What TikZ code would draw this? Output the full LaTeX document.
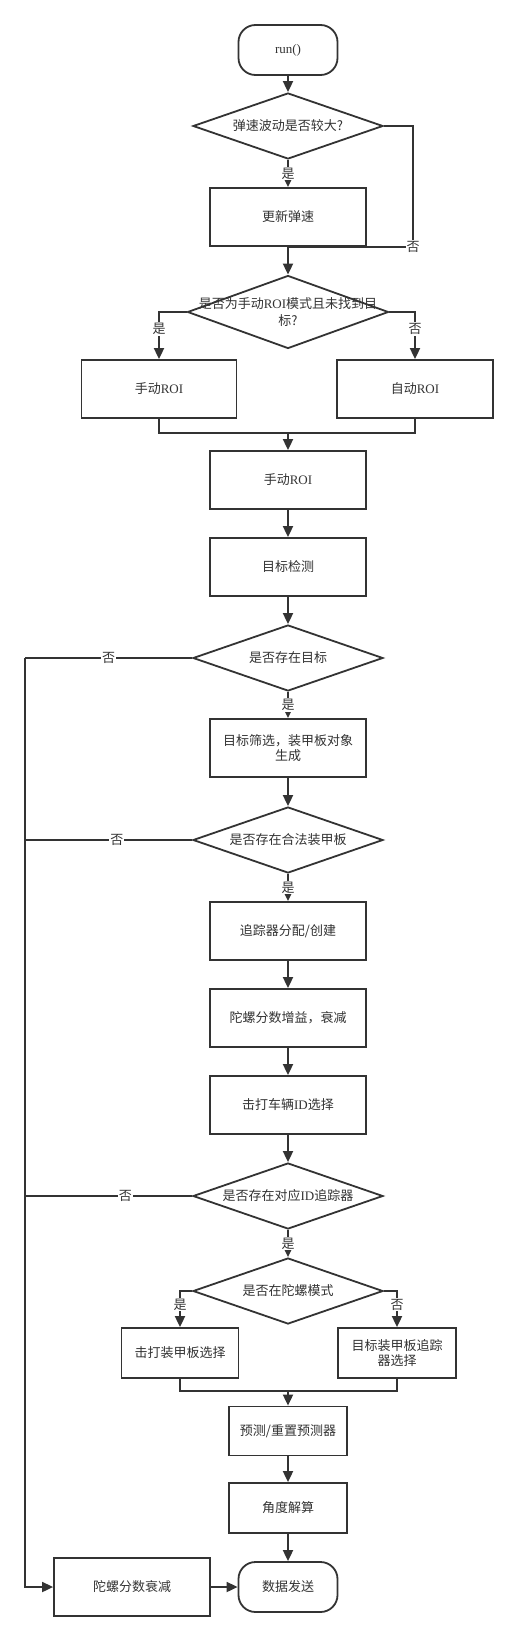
\documentclass[tikz,border=0pt]{standalone}
\usepackage{fontspec}
\setmainfont{Noto Sans CJK SC}
\newfontfamily\lat{Liberation Serif}
\usetikzlibrary{shapes.geometric,arrows.meta}
\definecolor{ink}{HTML}{333333}
\begin{document}
\begin{tikzpicture}[x=1pt,y=-1pt,
    every node/.style={font=\fontsize{13}{15}\selectfont, text=ink},
    proc/.style={draw=ink, line width=1.8pt, minimum width=156pt, minimum height=58pt, inner sep=2pt},
    term/.style={proc, rounded corners=17pt, minimum width=99pt, minimum height=50pt},
    decision/.style={diamond, draw=ink, line width=1.8pt, aspect=2.9, minimum width=190pt, minimum height=66pt, inner sep=0pt},
    conn/.style={draw=ink, line width=1.8pt},
    arrow/.style={conn, -{Triangle[length=11pt,width=10pt]}},
    lbl/.style={fill=white, inner sep=1pt}]
    \fill[white] (0,0) rectangle (517,1640);
    \useasboundingbox (0,0) rectangle (517,1640);
    \node[term] (run) at (288,50) {\lat run()};
    \node[decision] (d1) at (288,126) {弹速波动是否较大?};
    \node[proc] (speed) at (288,217) {更新弹速};
    \node[decision, minimum width=201pt, minimum height=73pt, aspect=2.75,
        label={[align=center, font=\fontsize{13}{17}\selectfont]center:{是否为手动{\lat ROI}模式且未找到目\\标?}}] (d2) at (288,312) {};
    \node[proc, minimum width=155pt] (manual) at (159,389) {手动{\lat ROI}};
    \node[proc] (auto) at (415,389) {自动{\lat ROI}};
    \coordinate (m1) at (288,433);
    \node[proc] (roi) at (288,480) {手动{\lat ROI}};
    \node[proc] (det) at (288,567) {目标检测};
    \node[decision] (d3) at (288,658) {是否存在目标};
    \node[proc, align=center] (filt) at (288,748) {目标筛选，装甲板对象\\生成};
    \node[decision] (d4) at (288,840) {是否存在合法装甲板};
    \node[proc] (trk) at (288,931) {追踪器分配/创建};
    \node[proc] (gain) at (288,1018) {陀螺分数增益，衰减};
    \node[proc] (hit) at (288,1105) {击打车辆{\lat ID}选择};
    \node[decision] (d5) at (288,1196) {是否存在对应{\lat ID}追踪器};
    \node[decision] (d6) at (288,1291) {是否在陀螺模式};
    \node[proc, minimum width=117pt, minimum height=50pt] (arm) at (180,1353) {击打装甲板选择};
    \node[proc, minimum width=118pt, minimum height=50pt, align=center] (tsel) at (397,1353) {目标装甲板追踪\\器选择};
    \coordinate (m2) at (288,1391);
    \node[proc, minimum width=118pt, minimum height=49pt] (pred) at (288,1431) {预测/重置预测器};
    \node[proc, minimum width=118pt, minimum height=50pt] (ang) at (288,1508) {角度解算};
    \node[term] (send) at (288,1587) {数据发送};
    \node[proc] (decay) at (132,1587) {陀螺分数衰减};
    \coordinate (rail) at (25,0);
    \coordinate (n1) at (413,247);

    \draw[arrow] (run) -- (d1);
    \draw[arrow] (d1) -- node[lbl]{是} (speed);
    \draw[conn] (d1.east) -| (n1) node[lbl]{否} -- (speed.south);
    \draw[arrow] (speed) -- (d2);
    \draw[arrow] (d2.west) -| node[lbl, pos=0.68]{是} (manual.north);
    \draw[arrow] (d2.east) -| node[lbl, pos=0.68]{否} (auto.north);
    \draw[conn] (manual.south) |- (m1) -| (auto.south);
    \draw[arrow] (m1) -- (roi);
    \draw[arrow] (roi) -- (det);
    \draw[arrow] (det) -- (d3);
    \draw[arrow] (d3) -- node[lbl]{是} (filt);
    \draw[conn] (d3.west) -- node[lbl]{否} (d3.west -| rail);
    \draw[arrow] (d3.west -| rail) |- (decay.west);
    \draw[arrow] (filt) -- (d4);
    \draw[conn] (d4.west) -- node[lbl, pos=0.45]{否} (d4.west -| rail);
    \draw[arrow] (d4) -- node[lbl]{是} (trk);
    \draw[arrow] (trk) -- (gain);
    \draw[arrow] (gain) -- (hit);
    \draw[arrow] (hit) -- (d5);
    \draw[conn] (d5.west) -- node[lbl, pos=0.4]{否} (d5.west -| rail);
    \draw[arrow] (d5) -- node[lbl]{是} (d6);
    \draw[arrow] (d6.west) -| node[lbl, pos=0.69]{是} (arm.north);
    \draw[arrow] (d6.east) -| node[lbl, pos=0.69]{否} (tsel.north);
    \draw[conn] (arm.south) |- (m2) -| (tsel.south);
    \draw[arrow] (m2) -- (pred);
    \draw[arrow] (pred) -- (ang);
    \draw[arrow] (ang) -- (send);
    \draw[arrow] (decay) -- (send);
\end{tikzpicture}
\end{document}
